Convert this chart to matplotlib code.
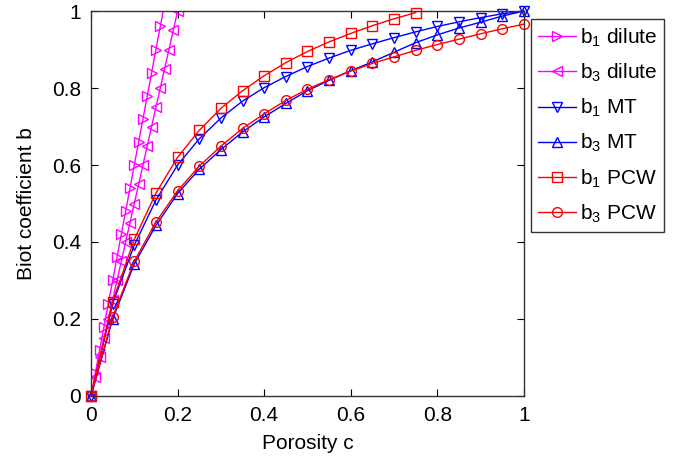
import matplotlib
matplotlib.use("Agg")
import matplotlib.pyplot as plt

plt.rcParams['font.family'] = ['Liberation Sans', 'DejaVu Sans']
plt.rcParams['mathtext.fontset'] = 'custom'
plt.rcParams['mathtext.rm'] = 'Liberation Sans'
plt.rcParams['mathtext.it'] = 'Liberation Sans:italic'

# dilute estimates, sampled every 0.01 in porosity
c_dil = [0, 0.01, 0.02, 0.03, 0.04, 0.05, 0.06, 0.07, 0.08, 0.09, 0.10,
         0.11, 0.12, 0.13, 0.14, 0.15, 0.16, 0.17, 0.18, 0.19, 0.20, 0.21]
b1_dilute = [0, 0.06, 0.12, 0.18, 0.24, 0.30, 0.36, 0.42, 0.48, 0.54, 0.60,
             0.66, 0.72, 0.78, 0.84, 0.90, 0.96, 1.02, 1.08, 1.14, 1.20, 1.26]
b3_dilute = [0, 0.05, 0.10, 0.15, 0.20, 0.25, 0.30, 0.35, 0.40, 0.45, 0.50,
             0.55, 0.60, 0.65, 0.70, 0.75, 0.80, 0.85, 0.90, 0.95, 1.00, 1.05]

# MT and PCW, sampled every 0.05
c = [0, 0.05, 0.10, 0.15, 0.20, 0.25, 0.30, 0.35, 0.40, 0.45, 0.50,
     0.55, 0.60, 0.65, 0.70, 0.75, 0.80, 0.85, 0.90, 0.95, 1.00]
b1_MT = [0, 0.24, 0.392, 0.509, 0.60, 0.668, 0.722, 0.766, 0.801, 0.83, 0.856,
         0.878, 0.898, 0.915, 0.931, 0.946, 0.96, 0.972, 0.983, 0.993, 1.0]
b3_MT = [0, 0.20, 0.343, 0.443, 0.526, 0.589, 0.64, 0.686, 0.725, 0.76, 0.793,
         0.82, 0.845, 0.868, 0.893, 0.918, 0.938, 0.956, 0.971, 0.987, 1.0]
c_pcw1 = c[:16]
b1_PCW = [0, 0.245, 0.407, 0.527, 0.62, 0.69, 0.747, 0.793, 0.832, 0.866, 0.895,
          0.92, 0.942, 0.962, 0.98, 0.996]
b3_PCW = [0, 0.205, 0.35, 0.452, 0.533, 0.597, 0.649, 0.695, 0.733, 0.768, 0.797,
          0.822, 0.844, 0.864, 0.881, 0.898, 0.913, 0.927, 0.941, 0.954, 0.966]

ticks = [0, 0.2, 0.4, 0.6, 0.8, 1]
tick_labels = ['0', '0.2', '0.4', '0.6', '0.8', '1']

fig = plt.figure(figsize=(6.87, 4.62), dpi=100)
ax = fig.add_axes([0.1325, 0.143, 0.630, 0.833])

ms = 7
lw = 1.0
ax.plot(c_dil, b1_dilute, '->', color='magenta', mfc='none', ms=ms, lw=lw,
        label=r'b$_1$ dilute')
ax.plot(c_dil, b3_dilute, '-<', color='magenta', mfc='none', ms=ms, lw=lw,
        label=r'b$_3$ dilute')
ax.plot(c, b1_MT, '-v', color='blue', mfc='none', ms=ms, lw=lw,
        label=r'b$_1$ MT', clip_on=False)
ax.plot(c, b3_MT, '-^', color='blue', mfc='none', ms=ms, lw=lw,
        label=r'b$_3$ MT', clip_on=False)
ax.plot(c_pcw1, b1_PCW, '-s', color='red', mfc='none', ms=ms - 0.5, lw=lw,
        label=r'b$_1$ PCW', clip_on=False)
ax.plot(c, b3_PCW, '-o', color='red', mfc='none', ms=ms, lw=lw,
        label=r'b$_3$ PCW', clip_on=False)

ax.set_xlim(0, 1)
ax.set_ylim(0, 1)
ax.set_xticks(ticks)
ax.set_xticklabels(tick_labels)
ax.set_yticks(ticks)
ax.set_yticklabels(tick_labels)
ax.tick_params(direction='in', top=True, right=True, length=5, labelsize=15,
               pad=7)
for sp in ax.spines.values():
    sp.set_color('#333333')
    sp.set_linewidth(1.0)

ax.set_xlabel('Porosity c', fontsize=15, labelpad=7)
ax.set_ylabel('Biot coefficient b', fontsize=15, labelpad=12)

leg = ax.legend(loc='upper left', bbox_to_anchor=(1.016, 0.979),
                borderaxespad=0, fontsize=15, fancybox=False,
                edgecolor='#333333', framealpha=1, handlelength=1.8,
                handletextpad=0.2, labelspacing=0.62, borderpad=0.35)
leg.get_frame().set_linewidth(1.0)

fig.savefig('out.png', dpi=100)
